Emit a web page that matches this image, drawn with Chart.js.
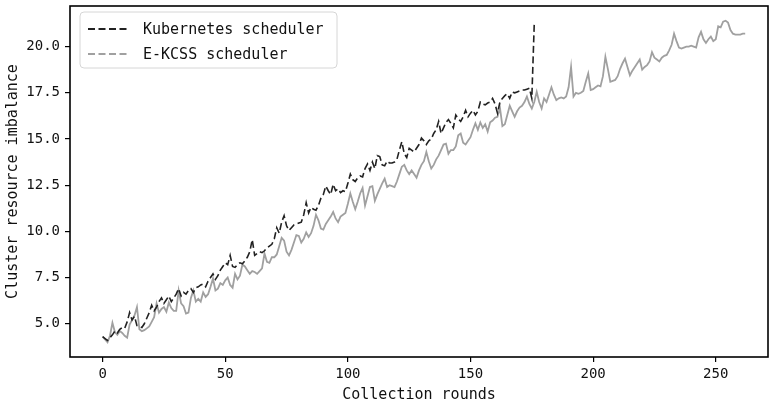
<!DOCTYPE html>
<html>
<head>
<meta charset="utf-8">
<script src="https://cdn.jsdelivr.net/npm/chart.js@4/dist/chart.umd.min.js"></script>
<style>
	html, body { margin: 0; padding: 0; background: #fff; overflow: hidden; }
	#wrap { width: 769px; height: 406px; }
</style>
</head>
<body>
<div id="wrap"><canvas id="imbalance" width="769" height="406"></canvas></div>
<script>
// values, one per collection round
var k8sValues = [
	4.30, 4.20, 4.10, 4.25, 4.40, 4.60, 4.50, 4.70, 4.80, 4.75,
	5.10, 5.60, 5.20, 5.40, 4.90, 4.85, 4.80, 5.00, 5.30, 5.60,
	6.00, 5.70, 5.90, 6.20, 6.40, 6.10, 6.30, 6.50, 6.20, 6.40,
	6.60, 6.90, 6.50, 6.70, 6.60, 6.80, 6.90, 6.70, 6.95, 7.00,
	7.10, 7.15, 7.00, 7.30, 7.50, 7.70, 7.40, 7.60, 7.90, 8.10,
	8.30, 8.20, 8.70, 8.10, 8.05, 8.20, 8.30, 8.25, 8.40, 8.60,
	8.90, 9.55, 8.70, 8.80, 8.90, 8.85, 8.95, 9.10, 9.20, 9.30,
	9.60, 10.20, 9.90, 10.50, 10.85, 10.30, 10.05, 10.20, 10.35, 10.40,
	10.45, 10.50, 10.90, 11.55, 11.00, 11.30, 11.20, 11.15, 11.40, 11.80,
	12.00, 12.45, 12.20, 12.00, 12.55, 12.20, 12.30, 12.10, 12.20, 12.15,
	12.60, 13.10, 12.80, 12.70, 12.90, 13.00, 12.95, 13.40, 13.65, 13.30,
	13.75, 13.40, 14.10, 14.05, 13.60, 13.55, 13.80, 13.70, 13.70, 13.75,
	13.90, 14.40, 14.85, 14.20, 14.00, 14.50, 14.40, 14.30, 14.50, 14.70,
	15.05, 14.90, 14.70, 14.90, 15.00, 15.30, 15.50, 15.95, 15.30, 15.60,
	15.90, 16.05, 15.85, 15.60, 16.30, 16.10, 15.95, 16.20, 16.55, 16.20,
	16.40, 16.55, 16.30, 16.50, 17.00, 16.90, 16.85, 16.95, 17.00, 17.20,
	16.90, 16.40, 17.00, 17.20, 17.35, 17.45, 17.20, 17.55, 17.50, 17.55,
	17.60, 17.65, 17.65, 17.70, 17.75, 17.20, 21.27
];

var ekcssValues = [
	4.30, 4.15, 4.00, 4.35, 5.05, 4.55, 4.40, 4.60, 4.50, 4.35,
	4.25, 4.95, 5.20, 5.45, 5.90, 4.70, 4.60, 4.65, 4.75, 4.85,
	5.10, 5.35, 6.10, 5.60, 5.80, 5.90, 5.65, 6.15, 5.85, 5.70,
	5.70, 6.80, 6.10, 5.95, 5.55, 5.60, 6.40, 6.80, 6.20, 6.35,
	6.20, 6.70, 6.45, 6.60, 7.00, 7.45, 6.80, 6.90, 7.20, 7.10,
	7.35, 7.50, 7.10, 6.95, 7.70, 7.40, 7.60, 8.20, 8.10, 7.90,
	7.70, 7.85, 7.80, 7.70, 7.85, 8.00, 8.80, 8.35, 8.30, 8.60,
	8.60, 8.75, 9.20, 9.65, 9.50, 8.90, 8.70, 9.00, 9.40, 9.80,
	9.75, 9.40, 9.60, 9.95, 9.70, 9.90, 10.30, 10.90, 10.60, 10.15,
	10.10, 10.40, 10.60, 10.80, 11.05, 10.70, 10.50, 10.80, 10.90, 11.00,
	11.50, 12.05, 11.60, 11.20, 11.60, 12.05, 12.35, 11.40, 11.90, 12.40,
	12.45, 11.65, 12.00, 12.30, 12.60, 12.85, 12.40, 12.50, 12.45, 12.40,
	12.70, 13.10, 13.50, 13.60, 13.30, 13.10, 13.30, 13.10, 12.90, 13.30,
	13.60, 13.80, 14.30, 13.80, 13.40, 13.60, 13.90, 14.10, 14.40, 14.70,
	14.75, 14.20, 14.40, 14.40, 14.60, 15.20, 15.30, 14.80, 14.70, 14.90,
	15.10, 15.50, 15.85, 15.50, 15.90, 15.60, 15.80, 15.40, 15.90, 16.00,
	16.15, 16.20, 16.70, 15.70, 15.80, 16.30, 16.80, 16.50, 16.20, 16.50,
	16.70, 16.80, 17.00, 17.30, 16.90, 16.65, 17.00, 17.55, 17.00, 16.65,
	17.20, 17.00, 17.40, 17.80, 17.40, 17.10, 17.20, 17.25, 17.20, 17.30,
	17.80, 18.90, 17.30, 17.50, 17.45, 17.50, 17.60, 18.10, 18.55, 17.65,
	17.70, 17.80, 17.90, 17.85, 18.40, 19.45, 18.80, 18.10, 18.15, 18.20,
	18.40, 18.80, 19.10, 19.35, 18.90, 18.45, 18.70, 18.90, 19.10, 19.30,
	18.75, 18.90, 19.00, 19.20, 19.70, 19.40, 19.30, 19.20, 19.40, 19.50,
	19.55, 19.80, 20.10, 20.70, 20.30, 19.95, 19.90, 19.95, 20.00, 20.00,
	20.05, 20.00, 19.95, 20.50, 20.80, 20.40, 20.20, 20.40, 20.55, 20.30,
	20.40, 21.10, 21.05, 21.35, 21.40, 21.30, 20.90, 20.70, 20.65, 20.65,
	20.65, 20.70, 20.70
];

var seriesNames = ['Kubernetes scheduler', 'E-KCSS scheduler'];
var xTicks = [0, 50, 100, 150, 200, 250];
var yTicks = [5, 7.5, 10, 12.5, 15, 17.5, 20];

var FONT = '"DejaVu Sans Mono", "Liberation Mono", monospace';

function as_points(values) {
	return values.map(function (v, i) { return { x: i, y: v }; });
}

// black box round the plot, like the matplotlib frame
var frame = {
	id: 'frame',
	afterDatasetsDraw: function (chart) {
		var a = chart.chartArea, ctx = chart.ctx;
		ctx.save();
		ctx.strokeStyle = '#000';
		ctx.lineWidth = 1.6;
		ctx.strokeRect(a.left, a.top, a.right - a.left, a.bottom - a.top);
		ctx.restore();
	}
};

// legend box in the upper left corner
var boxLegend = {
	id: 'boxLegend',
	afterDraw: function (chart) {
		var ctx = chart.ctx;
		var x = 80, y = 12, w = 257, h = 56, r = 4;
		ctx.save();
		ctx.beginPath();
		ctx.moveTo(x + r, y);
		ctx.arcTo(x + w, y, x + w, y + h, r);
		ctx.arcTo(x + w, y + h, x, y + h, r);
		ctx.arcTo(x, y + h, x, y, r);
		ctx.arcTo(x, y, x + w, y, r);
		ctx.closePath();
		ctx.fillStyle = 'rgba(255,255,255,0.85)';
		ctx.fill();
		ctx.strokeStyle = '#d6d6d6';
		ctx.lineWidth = 1;
		ctx.stroke();

		chart.data.datasets.forEach(function (ds, i) {
			var ly = 29 + i * 25;
			ctx.beginPath();
			ctx.setLineDash([7, 3.5]);
			ctx.strokeStyle = ds.borderColor;
			ctx.lineWidth = 1.8;
			ctx.moveTo(88, ly);
			ctx.lineTo(128, ly);
			ctx.stroke();
			ctx.setLineDash([]);
			ctx.fillStyle = '#111';
			ctx.font = '15px ' + FONT;
			ctx.textBaseline = 'middle';
			ctx.textAlign = 'left';
			ctx.fillText(ds.label, 143, ly + 1);
		});
		ctx.restore();
	}
};

window.onload = function () {
	var ctx = document.getElementById('imbalance').getContext('2d');

	var chart = new Chart(ctx, {
		type: 'line',
		data: {
			datasets: [{
				label: seriesNames[0],
				data: as_points(k8sValues),
				borderColor: '#222222',
				borderWidth: 1.6,
				borderDash: [7, 3.5],
				pointRadius: 0,
				tension: 0,
				order: 1
			}, {
				label: seriesNames[1],
				data: as_points(ekcssValues),
				borderColor: '#a0a0a0',
				borderWidth: 1.8,
				pointRadius: 0,
				tension: 0,
				order: 2
			}]
		},
		options: {
			responsive: false,
			animation: false,
			events: [],
			layout: { padding: { top: 6, right: 1, left: 0, bottom: 0 } },
			plugins: {
				legend: { display: false },
				tooltip: { enabled: false }
			},
			scales: {
				x: {
					type: 'linear',
					min: -13.3,
					max: 271.3,
					afterFit: function (scale) {
						scale.height = 49;
						scale.paddingLeft = 0;
						scale.paddingRight = 0;
					},
					afterBuildTicks: function (scale) {
						scale.ticks = xTicks.map(function (v) { return { value: v }; });
					},
					ticks: {
						color: '#111',
						font: { family: FONT, size: 14 },
						padding: 4,
						maxRotation: 0,
						callback: function (v) { return v; }
					},
					grid: {
						drawOnChartArea: false,
						drawTicks: true,
						tickLength: 5,
						color: '#000',
						lineWidth: 1.2
					},
					border: { display: false },
					title: {
						display: true,
						text: 'Collection rounds',
						color: '#111',
						font: { family: FONT, size: 15 },
						padding: { top: 2, bottom: 2 }
					}
				},
				y: {
					min: 3.2,
					max: 22.2,
					afterFit: function (scale) {
						scale.width = 70;
						scale.paddingTop = 0;
						scale.paddingBottom = 0;
					},
					afterBuildTicks: function (scale) {
						scale.ticks = yTicks.map(function (v) { return { value: v }; });
					},
					ticks: {
						color: '#111',
						font: { family: FONT, size: 14 },
						padding: 5,
						callback: function (v) { return Number(v).toFixed(1); }
					},
					grid: {
						drawOnChartArea: false,
						drawTicks: true,
						tickLength: 5,
						color: '#000',
						lineWidth: 1.2
					},
					border: { display: false },
					title: {
						display: true,
						text: 'Cluster resource imbalance',
						color: '#111',
						font: { family: FONT, size: 15 },
						padding: { top: 4, bottom: 4 }
					}
				}
			}
		},
		plugins: [frame, boxLegend]
	});
};
</script>
</body>
</html>
